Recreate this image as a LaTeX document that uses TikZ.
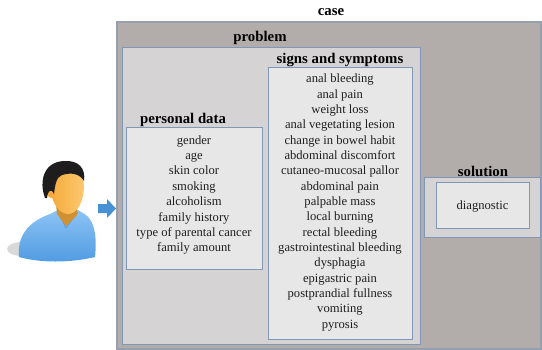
\documentclass[tikz,border=0pt]{standalone}
\usepackage{fontspec}
\setmainfont{Liberation Serif}
\begin{document}
\begin{tikzpicture}[x=1pt,y=-1pt,
  panel/.style={draw=frameblue, line width=1.1pt, inner sep=0pt, anchor=north west},
  casepanel/.style={panel, fill=casegray, draw=caseedge, line width=1.6pt},
  midpanel/.style={panel, fill=midgray},
  lightpanel/.style={panel, fill=lightgray},
  heading/.style={font=\fontsize{14.8}{16}\selectfont\bfseries, text=black, inner sep=0pt},
  itemlist/.style={font=\fontsize{12.6}{15.35}\selectfont, text=textgray, align=center, inner sep=0pt}
]
\definecolor{casegray}{RGB}{178,173,171}
\definecolor{caseedge}{RGB}{150,160,175}
\definecolor{midgray}{RGB}{213,211,211}
\definecolor{lightgray}{RGB}{231,231,231}
\definecolor{frameblue}{RGB}{128,152,182}
\definecolor{textgray}{RGB}{30,30,30}
\definecolor{arrowblue}{RGB}{72,146,212}
\definecolor{shirtblue}{RGB}{80,155,225}
\definecolor{shirtlight}{RGB}{140,195,245}
\definecolor{skin}{RGB}{245,170,60}
\definecolor{skinlight}{RGB}{252,200,110}
\definecolor{hair}{RGB}{30,28,28}

\useasboundingbox (0,0) rectangle (542,349);

% nested panels
\node[casepanel, minimum width=424pt, minimum height=327pt] (case) at (116,21) {};
\node[midpanel, minimum width=298pt, minimum height=297pt] (problem) at (122,47) {};
\node[lightpanel, minimum width=144pt, minimum height=272pt] (signs) at (268,67) {};
\node[lightpanel, minimum width=136pt, minimum height=142pt] (personal) at (126,127) {};
\node[midpanel, minimum width=116pt, minimum height=60pt] (solution) at (424,177) {};
\node[lightpanel, minimum width=93pt, minimum height=46pt] (diag) at (436,182) {};

% headings
\node[heading] (caselbl) at (331,12) {case};
\node[heading] (problbl) at (260,38) {problem};
\node[heading] (signslbl) at (340,60) {signs and symptoms};
\node[heading] (perslbl) at (183,120) {personal data};
\node[heading] (sollbl) at (483,171) {solution};

% item lists
\node[itemlist] (signitems) at (340,202.5) {anal bleeding\\anal pain\\weight loss\\anal vegetating lesion\\change in bowel habit\\abdominal discomfort\\cutaneo-mucosal pallor\\abdominal pain\\palpable mass\\local burning\\rectal bleeding\\gastrointestinal bleeding\\dysphagia\\epigastric pain\\postprandial fullness\\vomiting\\pyrosis};
\node[itemlist] (persitems) at (194,195) {gender\\age\\skin color\\smoking\\alcoholism\\family history\\type of parental cancer\\family amount};
\node[itemlist] (diagtext) at (482.5,206) {diagnostic};

% block arrow into the case panel
\fill[arrowblue] (98,204) -- (107,204) -- (107,199) -- (116,208.5) -- (107,218) -- (107,213) -- (98,213) -- cycle;

% person icon
\fill[gray!30] (22,249) ellipse (15pt and 7pt);
\shade[top color=shirtlight, bottom color=shirtblue]
  (19,257) .. controls (17,236) and (28,222) .. (50,214) -- (58,210) -- (78,210) -- (86,215)
  .. controls (95,222) and (97,238) .. (95,257) .. controls (70,263) and (40,263) .. (19,257) -- cycle;
\draw[shirtblue!70!black, line width=0.5pt, opacity=0.5] (58,212) -- (66,228) -- (78,212);
\fill[skin!85!black] (56,204) -- (77,204) -- (77,215) -- (66,226) -- (57,214) -- cycle;
\shade[left color=skin, right color=skinlight]
  (50,181) .. controls (50,204) and (60,214) .. (68,214) .. controls (78,214) and (84,200) .. (84,186)
  .. controls (84,173) and (76,168) .. (66,168) .. controls (56,168) and (50,173) .. (50,181) -- cycle;
\fill[skin] (51,192) ellipse (4pt and 6pt);
\fill[hair]
  (45,198) .. controls (39,182) and (43,162) .. (64,161) .. controls (78,160) and (86,168) .. (84,181)
  .. controls (80,174) and (72,172) .. (62,175) .. controls (56,177) and (55,186) .. (54,194)
  .. controls (51,188) and (48,190) .. (47,198) -- cycle;
\end{tikzpicture}
\end{document}
